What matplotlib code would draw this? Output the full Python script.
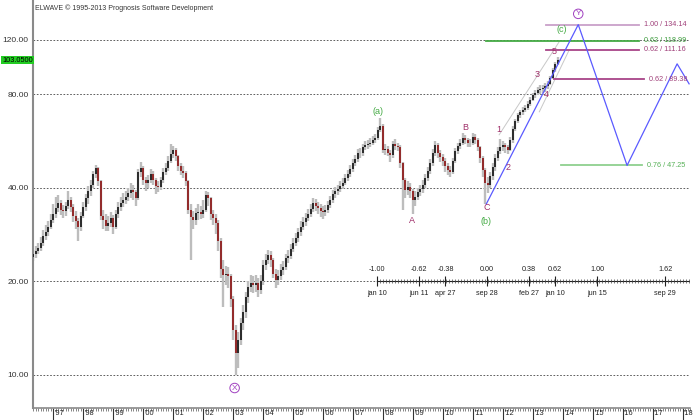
import numpy as np
import matplotlib
matplotlib.use("Agg")
import matplotlib.pyplot as plt

plt.rcParams['font.family'] = ['Liberation Sans', 'DejaVu Sans']

# monthly bars, first bar May 1996
start_year = 1996 + 4 / 12.0
first_open = 24.0
closes = [
    24.5, 25.0, 25.6, 26.5, 28.0, 28.8, 30.0, 31.5, 33.0, 34.5,
    35.8, 34.0, 33.6, 35.0, 36.6, 34.8, 32.5, 31.2, 30.0, 32.5,
    34.8, 37.0, 39.0, 41.0, 44.5, 46.4, 42.0, 32.5, 31.5, 30.2,
    30.8, 32.0, 30.0, 33.0, 34.8, 35.8, 36.6, 37.4, 38.5, 39.4,
    38.8, 37.0, 45.0, 46.5, 42.4, 41.5, 42.5, 44.5, 42.4, 40.5,
    40.3, 42.4, 45.0, 46.5, 49.0, 51.5, 53.0, 50.5, 47.0, 45.5,
    44.8, 42.0, 34.0, 32.2, 31.5, 33.2, 33.4, 33.0, 34.0, 38.0,
    37.0, 33.0, 32.0, 30.8, 27.0, 22.0, 21.0, 21.2, 20.8, 17.5,
    14.0, 11.8, 13.0, 14.7, 15.9, 17.8, 19.2, 19.8, 19.5, 19.8,
    18.8, 20.0, 22.6, 23.5, 24.3, 23.4, 21.2, 20.2, 20.8, 21.8,
    22.3, 23.8, 24.2, 25.5, 26.6, 27.6, 28.9, 30.0, 31.0, 32.0,
    33.0, 34.2, 35.7, 35.0, 34.5, 33.6, 33.5, 34.0, 35.2, 36.6,
    38.3, 39.0, 39.8, 40.6, 41.6, 43.0, 44.5, 46.0, 48.0, 49.5,
    52.0, 51.8, 54.0, 54.8, 55.3, 56.0, 57.0, 57.9, 61.4, 63.5,
    53.0, 53.5, 52.0, 51.0, 55.5, 54.6, 54.3, 48.0, 42.4, 39.4,
    40.3, 39.0, 36.6, 37.5, 38.8, 39.6, 41.0, 43.0, 45.5, 48.0,
    52.0, 55.0, 51.8, 50.2, 48.8, 47.0, 45.6, 45.0, 49.0, 52.5,
    54.5, 56.0, 58.0, 57.0, 55.7, 56.0, 58.3, 57.2, 54.0, 50.0,
    45.8, 41.5, 41.0, 43.8, 46.7, 50.0, 52.5, 54.2, 55.0, 54.0,
    53.0, 57.0, 62.0, 65.5, 68.5, 70.0, 71.3, 72.5, 74.5, 77.0,
    79.5, 81.0, 82.4, 83.5, 84.0, 85.0, 86.5, 90.5, 95.6, 100.5,
    103.05,
]
highs = [
    25.3, 26.0, 26.6, 27.8, 29.2, 30.5, 31.3, 33.0, 35.5, 37.5,
    38.0, 36.5, 35.2, 36.0, 39.0, 37.5, 35.5, 33.8, 32.0, 33.5,
    36.0, 38.2, 40.5, 42.5, 45.5, 47.5, 46.8, 42.5, 34.0, 33.0,
    32.5, 33.5, 32.8, 34.0, 36.0, 37.5, 38.5, 39.0, 40.0, 41.5,
    40.8, 39.5, 46.0, 48.5, 47.0, 43.5, 44.0, 46.0, 45.2, 43.0,
    42.0, 43.5, 46.2, 48.0, 50.5, 55.5, 54.5, 53.8, 51.0, 48.0,
    47.0, 45.5, 42.5, 35.5, 33.8, 34.5, 35.5, 35.0, 36.5, 39.0,
    38.8, 37.5, 34.0, 33.0, 31.5, 27.5, 23.5, 22.5, 22.3, 21.2,
    18.0, 14.5, 13.8, 15.3, 16.8, 18.5, 20.0, 21.0, 20.8, 21.0,
    20.5, 21.0, 23.5, 24.5, 25.3, 25.0, 23.8, 22.0, 21.8, 22.8,
    23.3, 24.5, 25.2, 26.3, 27.6, 28.6, 29.8, 31.2, 32.2, 33.3,
    34.2, 35.5, 37.0, 36.8, 36.0, 35.5, 35.0, 35.2, 36.2, 37.8,
    39.5, 40.2, 41.0, 42.0, 43.0, 44.3, 45.8, 47.5, 49.5, 51.0,
    53.5, 53.8, 55.5, 56.5, 57.0, 57.8, 58.8, 59.8, 63.0, 67.0,
    64.0, 55.5, 54.5, 53.0, 56.5, 57.5, 56.0, 55.0, 48.5, 43.0,
    42.0, 41.5, 39.8, 39.0, 40.0, 41.0, 42.3, 44.2, 46.8, 49.5,
    53.5, 56.5, 55.8, 53.0, 51.5, 50.0, 48.0, 47.0, 50.0, 53.8,
    56.0, 57.5, 60.0, 59.0, 58.0, 57.5, 60.0, 59.5, 58.0, 54.5,
    50.5, 46.5, 43.5, 45.0, 48.0, 51.5, 54.0, 57.5, 56.5, 56.0,
    55.0, 58.2, 63.2, 66.8, 69.8, 71.5, 72.8, 74.0, 76.0, 78.5,
    81.0, 82.8, 84.5, 85.5, 86.0, 87.0, 88.5, 92.0, 97.0, 102.0,
    105.3,
]
lows = [
    23.2, 23.8, 24.6, 25.0, 26.0, 27.2, 28.0, 29.4, 30.8, 32.0,
    33.5, 32.8, 32.0, 32.5, 34.2, 33.5, 31.0, 29.5, 27.0, 29.0,
    32.0, 33.8, 35.5, 37.8, 40.0, 43.0, 40.5, 31.5, 29.5, 29.0,
    29.0, 30.0, 28.5, 29.5, 32.0, 33.8, 34.8, 35.5, 36.2, 37.0,
    36.5, 35.0, 36.5, 43.5, 41.0, 39.0, 40.0, 41.5, 40.8, 38.2,
    38.8, 39.5, 41.5, 44.0, 45.5, 48.0, 50.0, 49.0, 45.5, 44.0,
    43.0, 40.5, 33.0, 23.4, 29.5, 30.5, 31.5, 31.8, 32.0, 33.5,
    35.0, 31.5, 30.5, 28.5, 25.0, 20.5, 16.5, 19.5, 19.0, 16.5,
    13.0, 10.0, 10.5, 12.5, 14.0, 15.3, 17.0, 18.5, 18.3, 18.5,
    17.8, 18.2, 19.5, 21.8, 22.8, 22.2, 20.5, 19.0, 19.5, 20.2,
    21.0, 21.8, 23.0, 23.6, 24.8, 26.0, 26.8, 28.0, 29.2, 30.2,
    31.2, 32.2, 33.5, 33.8, 33.0, 32.2, 31.8, 32.5, 33.2, 34.5,
    35.8, 37.2, 38.0, 38.8, 39.8, 40.8, 42.2, 43.5, 45.0, 47.0,
    48.5, 50.0, 50.5, 52.8, 53.5, 54.0, 55.0, 55.8, 57.0, 60.5,
    52.0, 51.0, 50.5, 48.5, 50.0, 53.0, 52.5, 46.5, 34.0, 37.0,
    38.0, 37.0, 33.0, 35.0, 36.5, 37.8, 38.5, 40.0, 42.0, 44.5,
    47.0, 50.5, 50.0, 48.5, 47.0, 45.0, 44.0, 43.5, 44.5, 48.0,
    51.5, 53.5, 55.0, 55.5, 54.0, 54.2, 55.0, 55.5, 52.5, 48.0,
    43.5, 35.5, 38.5, 40.0, 42.5, 45.5, 49.0, 51.5, 52.5, 52.0,
    51.5, 52.5, 56.0, 61.0, 64.5, 67.0, 68.5, 70.0, 71.5, 73.5,
    76.0, 78.0, 79.5, 80.5, 80.8, 81.5, 83.0, 85.5, 89.5, 94.5,
    99.5,
]
last_price = 103.05

# projection path (blue)
proj_dates = [2011.45, 2014.52, 2016.15, 2017.82, 2018.22]
proj_values = [35.5, 134.14, 47.25, 100.3, 86.5]

# channel lines (grey)
chan_upper_dates = [2011.88, 2013.88]
chan_upper_values = [59.3, 118.0]
chan_lower_dates = [2013.22, 2014.22]
chan_lower_values = [70.3, 111.3]

# fibonacci price levels
fib_labels = ['1.00 / 134.14', '0.62 / 118.99', '0.62 / 111.16', '0.62 / 89.38', '0.76 / 47.25']
fib_values = [134.14, 118.99, 111.16, 89.38, 47.25]
fib_start = [2013.45, 2011.45, 2013.45, 2013.72, 2013.95]
fib_end = [2016.55, 2016.55, 2016.55, 2016.72, 2016.65]
fib_colors = ['#c9a0c9', '#44aa44', '#a84488', '#a84488', '#8fd08f']
fib_text_colors = ['#a0407a', '#3a9a3a', '#a0407a', '#a0407a', '#55b055']

# fibonacci time ruler
time_ratios = [-1.00, -0.62, -0.38, 0.00, 0.38, 0.62, 1.00, 1.62]
time_names = ['jan 10', 'jun 11', 'apr 27', 'sep 28', 'feb 27', 'jan 10', 'jun 15', 'sep 29']
time_zero = 2011.48
time_unit = 3.665
ruler_level = 20.0

# wave labels
wave_text = ['A', 'B', 'C', '1', '2', '3', '4', '5']
wave_dates = [2008.98, 2010.75, 2011.45, 2011.88, 2012.18, 2013.15, 2013.45, 2013.72]
wave_values = [31.5, 62.4, 34.5, 61.5, 46.4, 92.5, 79.7, 109.6]
minor_text = ['(a)', '(b)', '(c)']
minor_dates = [2007.83, 2011.45, 2013.98]
minor_values = [70.3, 31.1, 129.0]
circle_text = ['X', 'Y']
circle_dates = [2003.05, 2014.52]
circle_values = [9.08, 145.3]

years = list(range(1997, 2019))
grid_levels = [10, 20, 40, 80, 120]

fig = plt.figure(figsize=(6.93, 4.2), dpi=100)
ax = fig.add_axes([33 / 693, 12 / 420, 657 / 693, 408 / 420])
ax.set_yscale('log')
ax.set_ylim(7.83, 161)
ax.set_xlim(1996.32, 2018.22)

# grid
for g in grid_levels:
    if g == ruler_level:
        ax.plot([1996.32, time_zero - time_unit], [g, g], color='#444444', lw=0.6,
                ls=(0, (2, 2)), zorder=1)
    else:
        ax.axhline(g, color='#444444', lw=0.6, ls=(0, (2, 2)), zorder=1)

# bars
n = len(closes)
dates = start_year + np.arange(n) / 12.0
opens = [first_open] + closes[:-1]
ax.vlines(dates, lows, highs, color='#bdbdbd', lw=1.7, zorder=2)
for d, o, c in zip(dates, opens, closes):
    col = '#111111' if c >= o else '#8b1010'
    ax.vlines(d, min(o, c), max(o, c), color=col, lw=1.2, zorder=3)

# channels and projection
ax.plot(chan_upper_dates, chan_upper_values, color='#c8c8c8', lw=0.7, zorder=2)
ax.plot(chan_lower_dates, chan_lower_values, color='#c8c8c8', lw=0.7, zorder=2)
ax.plot(proj_dates, proj_values, color='#5a5aff', lw=0.9, zorder=4, clip_on=True)

# fib price levels
for lab, v, s, e, c, tc in zip(fib_labels, fib_values, fib_start, fib_end, fib_colors, fib_text_colors):
    ax.plot([s, e], [v, v], color=c, lw=1.3, zorder=3)
    ax.text(e + 0.15, v, lab, color=tc, fontsize=5.2, va='center', ha='left', zorder=5)

# fib time ruler
t_pos = [time_zero + r * time_unit for r in time_ratios]
ax.plot([t_pos[0], 2018.22], [ruler_level, ruler_level], color='#222222', lw=0.8, zorder=3)
minor_t = np.arange(t_pos[0], 2018.22, 0.1)
ax.plot(minor_t, [ruler_level] * len(minor_t), ls='none', marker='|', ms=2.5, mew=0.5,
        color='#444444', zorder=3)
for r, name, p in zip(time_ratios, time_names, t_pos):
    ax.plot([p], [ruler_level], marker='|', ms=7, mew=0.8, color='#222222', zorder=4)
    ax.text(p, ruler_level * 1.065, '%.2f' % r, fontsize=5.2, ha='center', va='bottom', color='#222222')
    ax.text(p, ruler_level / 1.065, name, fontsize=5.2, ha='center', va='top', color='#222222')

# wave labels
for t, d, v in zip(wave_text, wave_dates, wave_values):
    ax.text(d, v, t, color='#a0306a', fontsize=6.5, ha='center', va='center', zorder=6)
for t, d, v in zip(minor_text, minor_dates, minor_values):
    ax.text(d, v, t, color='#44aa44', fontsize=6.5, ha='center', va='center', zorder=6)
for t, d, v in zip(circle_text, circle_dates, circle_values):
    ax.text(d, v, t, color='#a040c0', fontsize=6, ha='center', va='center', zorder=6,
            bbox=dict(boxstyle='circle,pad=0.15', fc='white', ec='#a040c0', lw=0.7))

# axes styling
for s in ['top', 'right']:
    ax.spines[s].set_visible(False)
ax.spines['left'].set_color('#8a8a8a')
ax.spines['left'].set_linewidth(1.5)
ax.spines['bottom'].set_color('#8a8a8a')
ax.spines['bottom'].set_linewidth(1.2)

ax.set_yticks(grid_levels)
ax.set_yticklabels(['%.2f' % g for g in grid_levels], fontsize=6, color='#333333')
ax.yaxis.set_minor_locator(matplotlib.ticker.NullLocator())
ax.tick_params(axis='y', length=0, pad=3)

ax.set_xticks(years)
ax.set_xticklabels([])
ax.set_xticks(start_year + np.arange(0, 22 * 12) / 12.0, minor=True)
ax.tick_params(axis='x', which='major', length=9, width=0.8, color='#333333', direction='out')
ax.tick_params(axis='x', which='minor', length=2, width=0.5, color='#555555', direction='out')
for y in years:
    ax.text(y + 0.05, -0.004, "'%02d" % (y % 100), transform=ax.get_xaxis_transform(),
            fontsize=5.3, va='top', ha='left', color='#222222')

# price box and header
fig.text(2 / 693, 1 - 60 / 420, '%.4f' % last_price,
         fontsize=5.3, ha='left', va='center', color='black',
         bbox=dict(boxstyle='square,pad=0.12', fc='#22cc22', ec='none'))
fig.text(35 / 693, 1 - 8 / 420, 'ELWAVE \u00a9 1995-2013 Prognosis Software Development',
         fontsize=5, color='#333333', va='center', ha='left')

fig.savefig('out.png', dpi=100)
